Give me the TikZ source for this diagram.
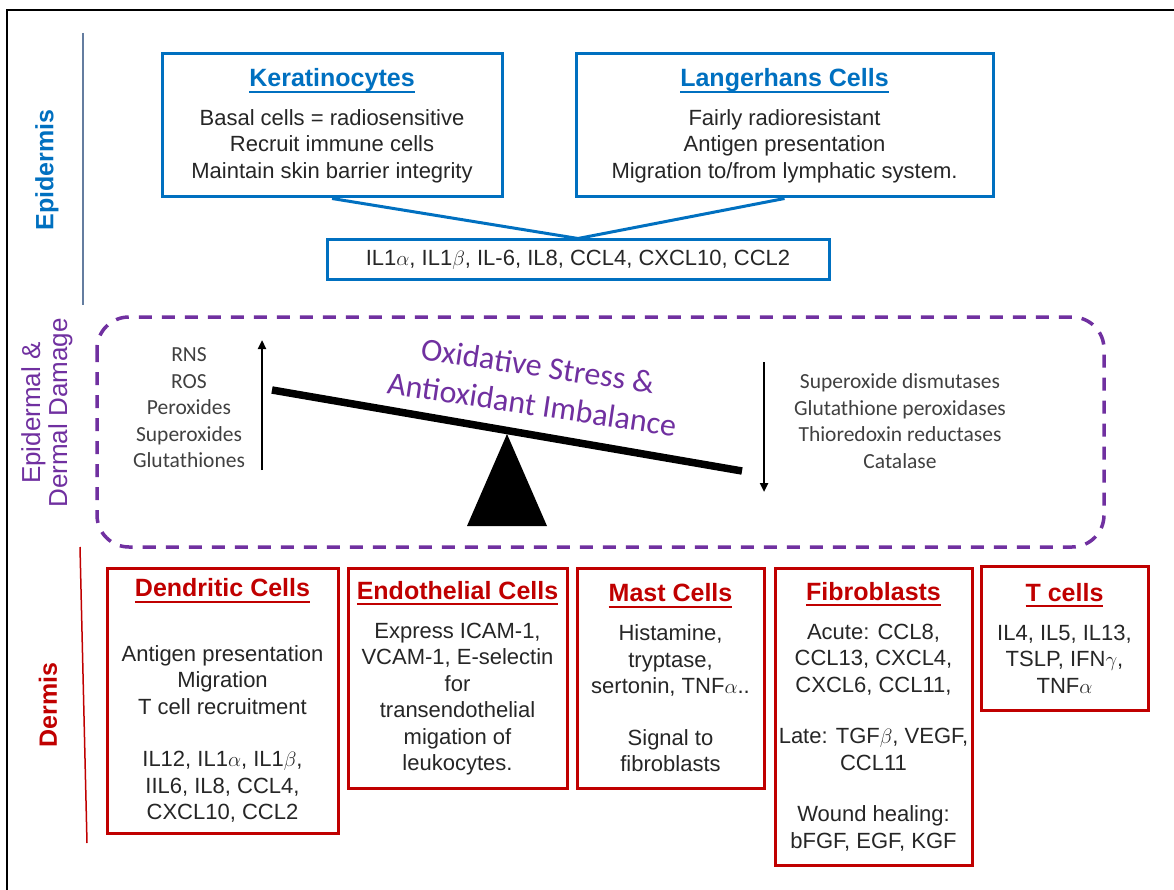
\documentclass[tikz,border=0pt]{standalone}
\usepackage{fontspec}
\setmainfont{Liberation Sans}
\newfontfamily\calfont{Carlito}
\usetikzlibrary{arrows.meta,positioning}

\definecolor{epiblue}{RGB}{0,112,192}
\definecolor{derred}{RGB}{192,0,0}
\definecolor{dampurple}{RGB}{112,48,160}
\definecolor{bodygrey}{RGB}{38,38,38}
\definecolor{listgrey}{RGB}{64,64,64}
\definecolor{layerline}{RGB}{100,125,160}

\newcommand{\bodyfont}{\fontsize{22}{26.5}\selectfont}
\newcommand{\listfont}{\calfont\fontsize{21.5}{26.5}\selectfont}
\newcommand{\celltitle}[2]{{\color{#1}\bfseries\fontsize{25}{26.5}\selectfont\setbox0\hbox{#2}\rlap{\rule[-6pt]{\wd0}{2pt}}\box0}}

\begin{document}
\begin{tikzpicture}[x=1pt,y=-1pt,inner sep=0pt]
       \tikzstyle{epibox}=[draw=epiblue,line width=3pt,align=center,text=bodygrey,font=\bodyfont]
       \tikzstyle{dermbox}=[draw=derred,line width=3pt,align=center,text=bodygrey,font=\bodyfont]
       \tikzstyle{listtext}=[align=center,text=listgrey,font=\listfont]
       \tikzstyle{layerlabel}=[rotate=90,align=center]
       \tikzstyle{bluelink}=[draw=epiblue,line width=3pt]
       \tikzstyle{levelarrow}=[line width=2.5pt,-{Triangle[length=9pt,width=8pt]}]

       \useasboundingbox (0,0) rectangle (1174,890);
       \fill[white] (0,0) rectangle (1174,890);
       \draw[line width=2pt] (7,890) -- (7,10) -- (1174,10);

       % layer labels
       \node[layerlabel,text=epiblue,font=\bfseries\fontsize{25}{30}\selectfont] (epi) at (47,170) {Epidermis};
       \node[layerlabel,text=dampurple,font=\fontsize{26}{27}\selectfont] (dam) at (47,413) {Epidermal \&\\Dermal Damage};
       \node[layerlabel,text=derred,font=\bfseries\fontsize{25}{30}\selectfont] (der) at (48,705) {Dermis};
       \draw[layerline,line width=2pt] (83,33) -- (83,305);
       \draw[derred,line width=1.5pt] (80,547) -- (87,843);

       % epidermis
       \node[epibox,minimum width=340pt,minimum height=143pt] (kera) at (332,125.5)
            {\celltitle{epiblue}{Keratinocytes}\\[12pt]
             Basal cells = radiosensitive\\Recruit immune cells\\Maintain skin barrier integrity};
       \node[epibox,minimum width=417pt,minimum height=143pt] (lang) at (784.5,125.5)
            {\celltitle{epiblue}{Langerhans Cells}\\[12pt]
             Fairly radioresistant\\Antigen presentation\\Migration to/from lymphatic system.};
       \node[epibox,minimum width=502pt,minimum height=40pt] (cyto) at (578,260)
            {IL1$\alpha$, IL1$\beta$, IL-6, IL8, CCL4, CXCL10, CCL2};
       \path[bluelink] (kera.south) edge (cyto.north)
                       (lang.south) edge (cyto.north);

       % damage
       \draw[dampurple,line width=3.5pt,dash pattern=on 13pt off 10pt,rounded corners=32pt]
            (97,317) rectangle (1104,547);
       \node[listtext] (oxid) at (189,408) {RNS\\ROS\\Peroxides\\Superoxides\\Glutathiones};
       \node[listtext] (anti) at (900,421) {Superoxide dismutases\\Glutathione peroxidases\\Thioredoxin reductases\\Catalase};
       \node[rotate=-8.5,align=center,text=dampurple,font=\calfont\fontsize{32}{39}\selectfont] (stress) at (535,385)
            {Oxidative Stress \&\\Antioxidant Imbalance};
       \coordinate (upfoot) at (262,470);
       \coordinate (uphead) at (262,340);
       \coordinate (downfoot) at (764,362);
       \coordinate (downhead) at (764,492);
       \draw[levelarrow] (upfoot) -- (uphead);
       \draw[levelarrow] (downfoot) -- (downhead);
       \coordinate (beamL) at (272,390);
       \coordinate (beamR) at (742,471);
       \draw[line width=7.5pt] (beamL) -- (beamR);
       \fill (507,434) -- (467,526) -- (547,526) -- cycle;

       % dermis
       \node[dermbox,minimum width=231pt,minimum height=265pt] (dend) at (222.5,700.5)
            {\celltitle{derred}{Dendritic Cells}\\[38pt]
             Antigen presentation\\Migration\\T cell recruitment\\[26pt]
             IL12, IL1$\alpha$, IL1$\beta$,\\IIL6, IL8, CCL4,\\CXCL10, CCL2};
       \node[dermbox,minimum width=219pt,minimum height=220pt] (endo) at (457.5,678)
            {\celltitle{derred}{Endothelial Cells}\\[12.5pt]
             Express ICAM-1,\\VCAM-1, E-selectin\\for\\transendothelial\\migation of\\leukocytes.};
       \node[dermbox,minimum width=187pt,minimum height=220pt] (mast) at (670.5,678)
            {\celltitle{derred}{Mast Cells}\\[12.5pt]
             Histamine,\\tryptase,\\sertonin, TNF$\alpha$..\\[25pt]
             Signal to\\fibroblasts};
       \node[dermbox,minimum width=197pt,minimum height=297pt] (fibro) at (873.5,716.5)
            {\celltitle{derred}{Fibroblasts}\\[12.5pt]
             Acute: CCL8,\\CCL13, CXCL4,\\CXCL6, CCL11,\\[25pt]
             Late: TGF$\beta$, VEGF,\\CCL11\\[25pt]
             Wound healing:\\bFGF, EGF, KGF};
       \node[dermbox,minimum width=167pt,minimum height=144pt] (tcell) at (1064.5,638)
            {\celltitle{derred}{T cells}\\[12.5pt]
             IL4, IL5, IL13,\\TSLP, IFN$\gamma$,\\TNF$\alpha$};
     \end{tikzpicture}
\end{document}
